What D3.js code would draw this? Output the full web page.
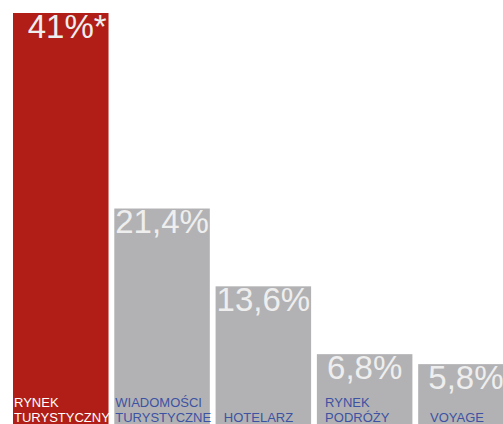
<!DOCTYPE html>
<html>
<head>
<meta charset="utf-8">
<script src="https://cdn.jsdelivr.net/npm/d3@7"></script>
<style>
  body { margin: 0; background: #fff; overflow: hidden; }
  text { font-family: "Liberation Sans", Arial, sans-serif; white-space: pre; }
</style>
</head>
<body>
<div id="content"></div>
<script>
// Chart data.
var names = [
  ["RYNEK", "TURYSTYCZNY"],
  ["WIADOMOŚCI", "TURYSTYCZNE"],
  ["", "  HOTELARZ"],
  ["  RYNEK", "  PODRÓŻY"],
  ["", "   VOYAGE"]
];
var values = [41, 21.4, 13.6, 6.8, 5.8];
var valueLabels = ["41%", "21,4%", "13,6%", "6,8%", "5,8%"];
var labelSuffix = ["*", "", "", "", ""];

// Main SVG container.
var width = 503, height = 424;
var svg = d3.select('#content')
              .append('svg')
              .attr('width', width)
              .attr('height', height);

var scaleX = d3.scaleBand()
                 .domain(d3.range(values.length))
                 .range([ 13, 513.7 ])
                 .paddingInner(0.057)
                 .paddingOuter(0);

var scaleY = d3.scaleLinear().domain([ 0, 41 ]).range([ 422, 13 ]);

var bars = svg.selectAll("g.bar")
                .data(values)
                .enter()
                .append("g")
                .attr("class", "bar");

// Draw the bars.
bars.append("rect")
    .attr("x", function(d, i) { return scaleX(i); })
    .attr("y", function(d) { return scaleY(d); })
    .attr("width", scaleX.bandwidth())
    .attr("height", function(d) { return 440 - scaleY(d); })
    .style("fill", function(d, i) { return i === 0 ? "#b01e17" : "#b2b2b4"; });

// Value labels, centred on the bar; the footnote mark hangs after it.
var vl = bars.append("text")
    .attr("x", function(d, i) { return scaleX(i) + scaleX.bandwidth() / 2; })
    .attr("y", function(d) { return scaleY(d) + 24.5; })
    .attr("text-anchor", "middle")
    .style("font-size", "33px")
    .style("fill", "#eeeeee")
    .text(function(d, i) { return valueLabels[i]; });

bars.append("text")
    .attr("x", function(d, i) {
      var box = vl.nodes()[i].getBBox();
      return box.x + box.width;
    })
    .attr("y", function(d) { return scaleY(d) + 24.5; })
    .style("font-size", "33px")
    .style("fill", "#eeeeee")
    .text(function(d, i) { return labelSuffix[i]; });

// Category names at the bottom of each bar.
[0, 1].forEach(function(line) {
  bars.append("text")
      .attr("x", function(d, i) { return scaleX(i) + 1; })
      .attr("y", 407 + line * 14.5)
      .style("font-size", "13px")
      .style("fill", function(d, i) { return i === 0 ? "#ffffff" : "#3d52a3"; })
      .text(function(d, i) { return names[i][line]; });
});
</script>
</body>
</html>
